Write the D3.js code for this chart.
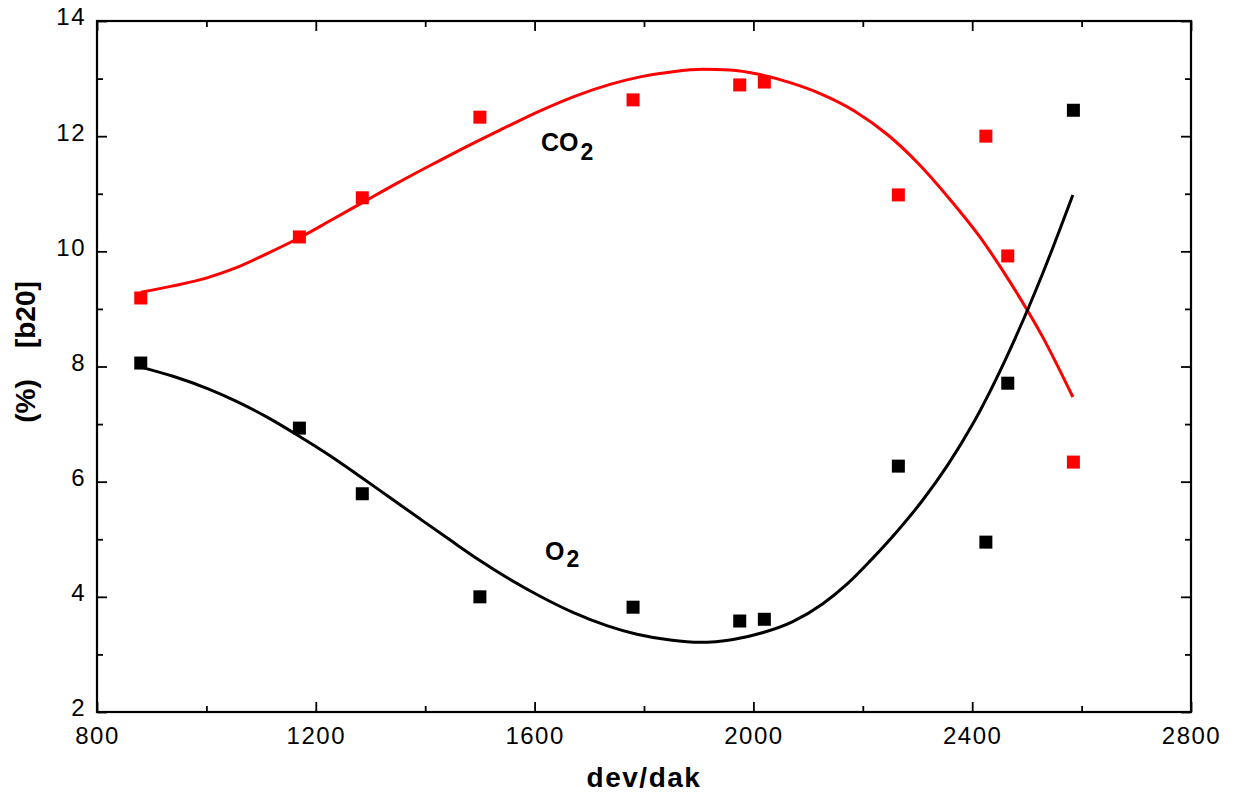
<!DOCTYPE html>
<html><head><meta charset="utf-8">
<script src="https://cdn.jsdelivr.net/npm/d3@7"></script>
<style>body{margin:0;background:#fff;} text{font-family:"Liberation Sans",Arial,sans-serif;}</style>
</head><body>
<svg id="c" width="1247" height="803"></svg>
<script>
// measured data
const rpm = [880, 1170, 1285, 1500, 1780, 1975, 2020, 2265, 2425, 2465, 2585];
const co2 = [9.19, 10.25, 10.93, 12.33, 12.63, 12.89, 12.94, 10.98, 12.0, 9.92, 6.34];
const o2  = [8.06, 6.93, 5.79, 4.00, 3.82, 3.58, 3.61, 6.27, 4.95, 7.71, 12.45];
// fitted curves
const co2FitX = [880, 939, 1001, 1056, 1111, 1171, 1226, 1286, 1348, 1409, 1482, 1542, 1610, 1678, 1738, 1793, 1853, 1908, 1957, 2012, 2067, 2122, 2186, 2246, 2301, 2356, 2414, 2469, 2529, 2584];
const co2FitY = [9.29, 9.40, 9.54, 9.72, 9.96, 10.24, 10.53, 10.85, 11.18, 11.49, 11.85, 12.13, 12.44, 12.71, 12.90, 13.03, 13.12, 13.16, 13.15, 13.07, 12.93, 12.74, 12.43, 12.02, 11.53, 10.94, 10.25, 9.47, 8.51, 7.47];
const o2FitX = [880, 939, 1001, 1056, 1111, 1166, 1226, 1281, 1336, 1391, 1445, 1500, 1550, 1610, 1670, 1732, 1787, 1848, 1902, 1963, 2018, 2072, 2127, 2171, 2213, 2263, 2308, 2356, 2401, 2469, 2529, 2584];
const o2FitY = [7.99, 7.83, 7.62, 7.39, 7.12, 6.81, 6.45, 6.09, 5.72, 5.35, 4.99, 4.63, 4.33, 4.01, 3.73, 3.50, 3.35, 3.25, 3.21, 3.26, 3.38, 3.57, 3.88, 4.22, 4.62, 5.14, 5.66, 6.30, 7.00, 8.29, 9.62, 10.98];
const xTicks = [800, 1200, 1600, 2000, 2400, 2800];
const yTicks = [2, 4, 6, 8, 10, 12, 14];
const xMinor = [1000, 1400, 1800, 2200, 2600];
const yMinor = [3, 5, 7, 9, 11, 13];

const svg = d3.select("#c");
const L = 97, R = 1191, T = 21, B = 712;
const x = d3.scaleLinear().domain([800, 2800]).range([L, R]);
const y = d3.scaleLinear().domain([2, 14]).range([B, T]);

const g = svg.append("g");
// frame
g.append("rect").attr("x", L).attr("y", T).attr("width", R - L).attr("height", B - T)
  .attr("fill", "none").attr("stroke", "#000").attr("stroke-width", 2.2);

function tickStyle(sel){ sel.select(".domain").remove(); sel.selectAll("line").attr("stroke","#000").attr("stroke-width",1.8); }
// bottom
g.append("g").attr("transform", `translate(0,${B})`)
  .call(d3.axisBottom(x).tickValues(xTicks).tickSizeInner(-10).tickSizeOuter(0).tickPadding(15).tickFormat(d3.format("d")))
  .call(tickStyle)
  .call(s => s.selectAll("text").attr("font-size", 24).attr("letter-spacing", "1.5px").attr("fill", "#000"));
g.append("g").attr("transform", `translate(0,${B})`)
  .call(d3.axisBottom(x).tickValues(xMinor).tickSizeInner(-6).tickSizeOuter(0).tickFormat(""))
  .call(tickStyle);
// top
g.append("g").attr("transform", `translate(0,${T})`)
  .call(d3.axisTop(x).tickValues(xTicks).tickSizeInner(-10).tickSizeOuter(0).tickFormat(""))
  .call(tickStyle);
g.append("g").attr("transform", `translate(0,${T})`)
  .call(d3.axisTop(x).tickValues(xMinor).tickSizeInner(-6).tickSizeOuter(0).tickFormat(""))
  .call(tickStyle);
// left
g.append("g").attr("transform", `translate(${L},0)`)
  .call(d3.axisLeft(y).tickValues(yTicks).tickSizeInner(-10).tickSizeOuter(0).tickPadding(11).tickFormat(d3.format("d")))
  .call(tickStyle)
  .call(s => s.selectAll("text").attr("font-size", 24).attr("letter-spacing", "1.5px").attr("dy", "0.16em").attr("fill", "#000"));
g.append("g").attr("transform", `translate(${L},0)`)
  .call(d3.axisLeft(y).tickValues(yMinor).tickSizeInner(-6).tickSizeOuter(0).tickFormat(""))
  .call(tickStyle);
// right
g.append("g").attr("transform", `translate(${R},0)`)
  .call(d3.axisRight(y).tickValues(yTicks).tickSizeInner(-10).tickSizeOuter(0).tickFormat(""))
  .call(tickStyle);
g.append("g").attr("transform", `translate(${R},0)`)
  .call(d3.axisRight(y).tickValues(yMinor).tickSizeInner(-6).tickSizeOuter(0).tickFormat(""))
  .call(tickStyle);

// curves
const line = d3.line().x(d => x(d[0])).y(d => y(d[1])).curve(d3.curveMonotoneX);
g.append("path").datum(co2FitX.map((v, i) => [v, co2FitY[i]]))
  .attr("d", line).attr("fill", "none").attr("stroke", "#ff0000").attr("stroke-width", 3);
g.append("path").datum(o2FitX.map((v, i) => [v, o2FitY[i]]))
  .attr("d", line).attr("fill", "none").attr("stroke", "#000").attr("stroke-width", 3);

// markers
const S = 13;
g.selectAll(".co2").data(rpm.map((v, i) => [v, co2[i]])).join("rect")
  .attr("x", d => x(d[0]) - S / 2).attr("y", d => y(d[1]) - S / 2).attr("width", S).attr("height", S).attr("fill", "#ff0000");
g.selectAll(".o2").data(rpm.map((v, i) => [v, o2[i]])).join("rect")
  .attr("x", d => x(d[0]) - S / 2).attr("y", d => y(d[1]) - S / 2).attr("width", S).attr("height", S).attr("fill", "#000");

// annotations
const co2t = svg.append("text").attr("x", 541).attr("y", 151).attr("font-size", 25).attr("font-weight", "bold");
co2t.append("tspan").text("CO");
co2t.append("tspan").attr("dy", 9).attr("dx", 2).attr("font-size", 23).text("2");
const o2t = svg.append("text").attr("x", 545).attr("y", 560).attr("font-size", 25).attr("font-weight", "bold");
o2t.append("tspan").text("O");
o2t.append("tspan").attr("dy", 7).attr("dx", 2).attr("font-size", 23).text("2");

// axis titles
svg.append("text").attr("x", 644).attr("y", 787).attr("text-anchor", "middle")
  .attr("font-size", 28).attr("letter-spacing", "1.5px").attr("font-weight", "bold").text("dev/dak");
svg.append("text").attr("transform", "translate(35,352) rotate(-90)").attr("text-anchor", "middle")
  .attr("font-size", 28).attr("font-weight", "bold").attr("xml:space", "preserve").style("white-space", "pre").text("(%)    [b20]");
</script>
</body></html>
